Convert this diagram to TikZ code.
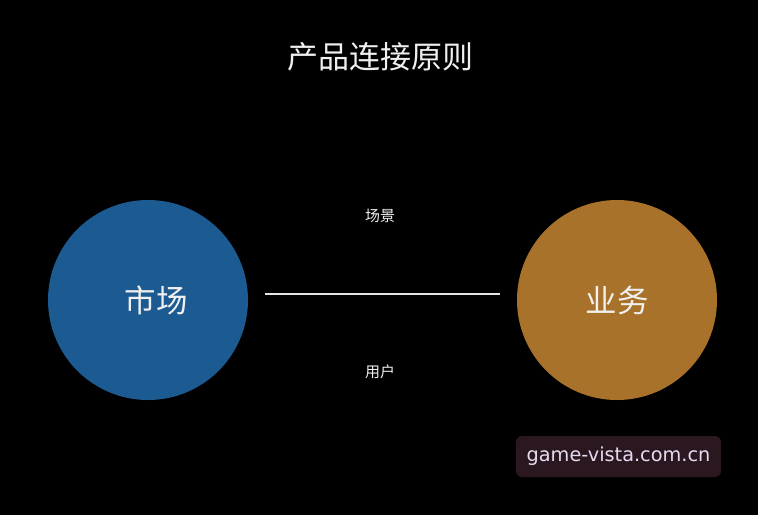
\documentclass[tikz,border=0pt]{standalone}
\usepackage{fontspec}
\newfontfamily\cjk{Noto Sans CJK SC}
\newfontfamily\wmfont{DejaVu Sans}
\definecolor{bluec}{HTML}{1C5A92}
\definecolor{orangec}{HTML}{A8722A}
\definecolor{wmbg}{HTML}{2A1720}
\definecolor{wmtext}{HTML}{E6DCF0}
\definecolor{txt}{HTML}{F0F0F0}
\tikzset{
  circ/.style={circle, minimum size=200pt, inner sep=0pt, text=txt, font=\cjk\fontsize{31.5}{36}\selectfont},
  lbl/.style={text=txt, font=\cjk\fontsize{15}{18}\selectfont},
  ttl/.style={text=txt, font=\cjk\fontsize{31}{36}\selectfont},
}
\begin{document}
\begin{tikzpicture}[x=1pt,y=-1pt]
\fill[black] (0,0) rectangle (758,515);
\useasboundingbox (0,0) rectangle (758,515);
\node[ttl] (title) at (380,57) {产品连接原则};
\node[circ, fill=bluec] (market) at (148,300) {};
\node[circ, text width=0pt, fill=none] (markettext) at (156,300) {\makebox[0pt]{市场}};
\node[circ, fill=orangec] (biz) at (617,300) {业务};
\coordinate (l1) at (265,294);
\coordinate (l2) at (500,294);
\draw[white!90!black, line width=1.6pt] (l1) -- (l2);
\node[lbl] (scene) at (380,216) {场景};
\node[lbl] (user) at (380,372) {用户};
\node[fill=wmbg, rounded corners=6pt, minimum width=205pt, minimum height=41pt, text=wmtext, font=\wmfont\fontsize{19.3}{23}\selectfont] (wm) at (618.5,456.5) {game-vista.com.cn};
\end{tikzpicture}
\end{document}
